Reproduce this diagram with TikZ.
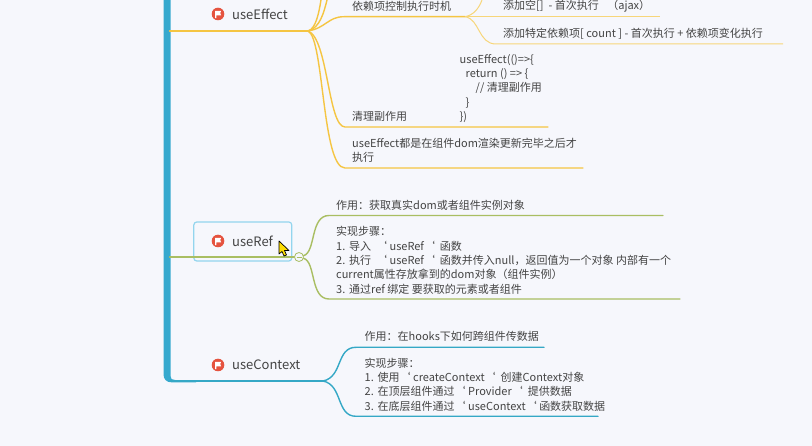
\documentclass[tikz,border=0pt]{standalone}
\usepackage{fontspec}
\setmainfont{Noto Sans CJK SC}
\usetikzlibrary{positioning}
\usetikzlibrary{calc}
\definecolor{pagebg}{HTML}{F6F7FC}
\definecolor{trunkblue}{HTML}{36A9CE}
\definecolor{effectyellow}{HTML}{F5C542}
\definecolor{depyellow}{HTML}{F7D67A}
\definecolor{refgreen}{HTML}{A9BE62}
\definecolor{contextblue}{HTML}{35A8C6}
\definecolor{boxblue}{HTML}{93D5EE}
\definecolor{flagred}{HTML}{E5533F}
\definecolor{inktext}{HTML}{444444}
\tikzset{topic/.style={inner sep=0pt,anchor=west,text=inktext,
                       font=\fontsize{13}{16}\selectfont}}
\tikzset{leaf/.style={inner sep=0pt,anchor=west,align=left,text=inktext,
                      font=\fontsize{11}{14.3}\selectfont}}
\tikzset{branch/.style={line width=1.4pt,line cap=round}}
\tikzset{root/.style={line width=2.6pt,line cap=round}}
\newcommand{\flagicon}[1]{\fill[flagred] (#1) circle (6.3);
    \fill[white] ($(#1)+(-3,-3.2)$) -- ++(6.2,0) -- ++(-1,2.2) -- ++(1,2.4)
                 -- ++(-4.8,0) -- ++(0,2.8) -- ++(-1.4,0) -- cycle;}
\newcommand{\tick}{\char96\relax}
\newcommand{\stepno}[1]{\makebox[13pt][l]{#1}}
\begin{document}
\begin{tikzpicture}[x=1pt,y=-1pt]
    \fill[pagebg] (0,0) rectangle (812,446);
    \useasboundingbox (0,0) rectangle (812,446);
    % Topics
    \foreach \h/\y/\n in {useEffect/14/effect,useRef/241/ref,useContext/365/context}{%
          \node[topic] (\n) at (232,\y) {\h};
          \coordinate (\n icon) at (218,\y);
          \flagicon{\n icon}
        }
    \node[draw=boxblue,line width=1.2pt,rounded corners=3pt,minimum width=98,minimum height=39,
          inner sep=0pt] (refbox) at (242.8,241.5) {};
    % Hubs and line ends
    \coordinate (effectroot) at (170,31);
    \coordinate (effecthub) at (308,31);
    \coordinate (dephub) at (465,16.7);
    \coordinate (refroot) at (170,257);
    \node[draw=refgreen,fill=pagebg,circle,line width=.8pt,minimum size=9,inner sep=0pt] (refhub) at (299,257) {};
    \coordinate (contextroot) at (170,381);
    \coordinate (contexthub) at (323,381);
    \coordinate (upa) at (321,0);
    \coordinate (upb) at (327,0);
    \coordinate (upc) at (482,0);
    % Trunk
    \fill[trunkblue] (163.5,-1) -- (170.5,-1) -- (170.5,376) .. controls (170.5,379) and (172,380) .. (175,380)
         -- (196,380.2) -- (196,382.4) -- (172,382.4) .. controls (166,382.4) and (163.5,379) .. (163.5,374) -- cycle;
    % Labels
    \node[leaf] (dep) at (352,6) {依赖项控制执行时机};
    \node[leaf] (depempty) at (503,6.5) {添加空[] \ - 首次执行 \hspace{6pt}（ajax）};
    \node[leaf] (depcount) at (503,34) {添加特定依赖项[ count ]\ - 首次执行\ + 依赖项变化执行};
    \node[leaf] (code) at (459.5,88.5) {useEffect(()=>\{\\
      \hspace*{6pt}return () => \{\\
      \hspace*{16pt}// 清理副作用\\
      \hspace*{6pt}\}\\
      \})};
    \node[leaf] (clean) at (352,116) {清理副作用};
    \node[leaf] (after) at (352,150) {useEffect都是在组件dom渲染更新完毕之后才\\执行};
    \node[leaf] (refuse) at (336,205) {作用：获取真实dom或者组件实例对象};
    \node[leaf] (refsteps) at (336,260.3) {实现步骤：\\
      \stepno{1.}导入 \ \tick\ useRef\tick\ \ 函数\\
      \stepno{2.}执行 \ \tick\ useRef\tick\ \ 函数并传入null，返回值为一个对象 内部有一个\\
      current属性存放拿到的dom对象（组件实例）\\
      \stepno{3.}通过ref 绑定 要获取的元素或者组件};
    \node[leaf] (contextuse) at (364.5,336) {作用：在hooks下如何跨组件传数据};
    \node[leaf] (contextsteps) at (364.5,384.5) {实现步骤：\\
      \stepno{1.}使用\tick\ createContext\tick\ \ 创建Context对象\\
      \stepno{2.}在顶层组件通过\tick\ Provider\tick\ \ 提供数据\\
      \stepno{3.}在底层组件通过\tick\ useContext\tick\ 函数获取数据};
    % useEffect branches
    \draw[effectyellow,root] (effectroot) -- (196,31);
    \draw[effectyellow,branch] (effectroot) -- (effecthub);
    \draw[effectyellow,branch] (effecthub) .. controls (316,29) and (319,12) .. (upa);
    \draw[effectyellow,branch] (effecthub) .. controls (320,28) and (324,12) .. (upb);
    \draw[effectyellow,branch] (effecthub) .. controls (326,28) and (328,16.7) .. (344,16.7) -- (dephub);
    \draw[effectyellow,branch] (effecthub) .. controls (328,38) and (328,127) .. (345,127) -- (548,127);
    \draw[effectyellow,branch] (effecthub) .. controls (324,38) and (322,168) .. (345,168) -- (583,168);
    \draw[depyellow,line width=1pt] (dephub) .. controls (474,15) and (479,8) .. (upc);
    \draw[depyellow,line width=1pt] (dephub) -- (660,16.7);
    \draw[depyellow,line width=1pt] (dephub) .. controls (480,19) and (478,44) .. (496,44) -- (783,44);
    % useRef branches
    \draw[refgreen,root] (refroot) -- (196,257);
    \draw[refgreen,branch] (refroot) -- (refhub);
    \draw[refgreen,branch] (refhub) .. controls (316,252) and (310,215.5) .. (329,215.5) -- (663,215.5);
    \draw[refgreen,branch] (refhub) .. controls (316,262) and (310,299) .. (329,299) -- (680,299);
    % useContext branches
    \draw[contextblue,branch] (contextroot) -- (contexthub);
    \draw[contextblue,branch] (contexthub) .. controls (343,377) and (336,347.3) .. (356,347.3) -- (544,347.3);
    \draw[contextblue,branch] (contexthub) .. controls (343,385) and (336,416.3) .. (356,416.3) -- (598,416.3);
    % Collapse mark and cursor
    \draw[refgreen,line width=.8pt] (296.5,257) -- (301.5,257);
    \draw[black,fill=yellow!80!orange,line width=.7pt,line join=round] (279,241) -- (279,254) -- (282,251.5)
         -- (284,256) -- (286.5,255) -- (284.5,250.5) -- (289,250.5) -- cycle;
\end{tikzpicture}
\end{document}
